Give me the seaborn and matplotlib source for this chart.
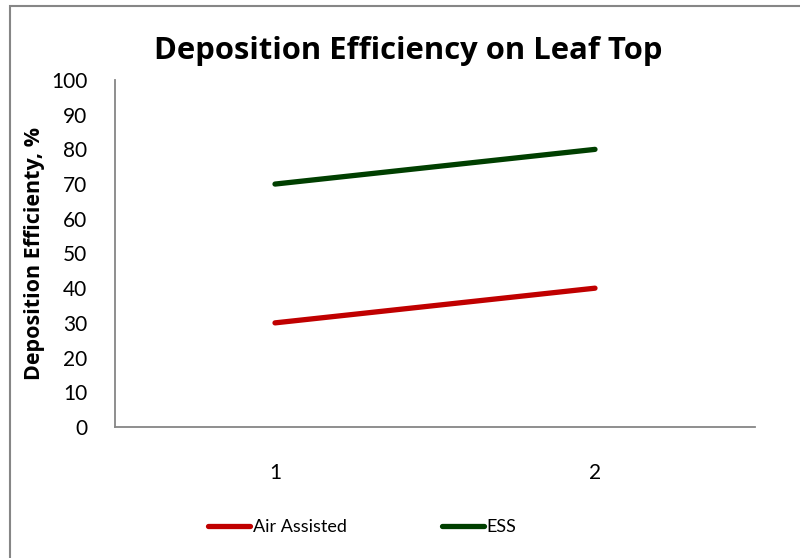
import pandas as pd
import matplotlib.pyplot as plt
import seaborn as sns
from matplotlib.patches import Rectangle

# data
categories = [1, 2]
air_assisted = [30, 40]
ess = [70, 80]
series_names = ['Air Assisted', 'ESS']

df = pd.DataFrame({
    'x': categories * 2,
    'value': air_assisted + ess,
    'series': [series_names[0]] * 2 + [series_names[1]] * 2,
})

sns.set_style('white')
plt.rcParams['font.family'] = ['Lato', 'DejaVu Sans']
plt.rcParams['text.color'] = 'black'
bold_font = ['Open Sans', 'DejaVu Sans']

fig = plt.figure(figsize=(8, 5.58), dpi=100)
ax = fig.add_axes([0.14375, 0.2348, 0.8, 0.6219])

sns.lineplot(data=df, x='x', y='value', hue='series',
             palette={'Air Assisted': '#C00000', 'ESS': '#003F00'},
             linewidth=3.8, solid_capstyle='round', legend=False, ax=ax)

ax.set_xlim(0.5, 2.5)
ax.set_ylim(0, 100)
ax.set_xticks(categories)
ax.set_xticklabels([str(c) for c in categories])
ax.set_yticks(range(0, 101, 10))
ax.tick_params(axis='both', length=0, labelsize=15, colors='black')
ax.tick_params(axis='x', pad=26)
ax.tick_params(axis='y', pad=20)

for side in ['top', 'right']:
    ax.spines[side].set_visible(False)
for side in ['left', 'bottom']:
    ax.spines[side].set_color('#868686')
    ax.spines[side].set_linewidth(1.3)

ax.set_xlabel('')
ax.set_ylabel('Deposition Efficienty, %', fontsize=15.5, fontweight='bold',
              family=bold_font, color='black')
ax.yaxis.set_label_coords(-0.11, 0.5)

fig.text(0.51, 0.908, 'Deposition Efficiency on Leaf Top', ha='center', va='center',
         fontsize=22.3, fontweight='bold', family=bold_font, color='black')

handles = [plt.Line2D([], [], color='#C00000', lw=3.8, solid_capstyle='round'),
           plt.Line2D([], [], color='#003F00', lw=3.8, solid_capstyle='round')]
fig.legend(handles, series_names, loc='center', bbox_to_anchor=(0.453, 0.055), ncol=2,
           frameon=False, fontsize=13, handlelength=2.3, handletextpad=0.15,
           columnspacing=5.3)

# chart border
fig.patches.append(Rectangle((10 / 800, -0.01), 0.99, 1 - 6 / 558 + 0.01,
                             transform=fig.transFigure, fill=False,
                             edgecolor='#868686', linewidth=1.5))

fig.savefig('out.png', dpi=100)
